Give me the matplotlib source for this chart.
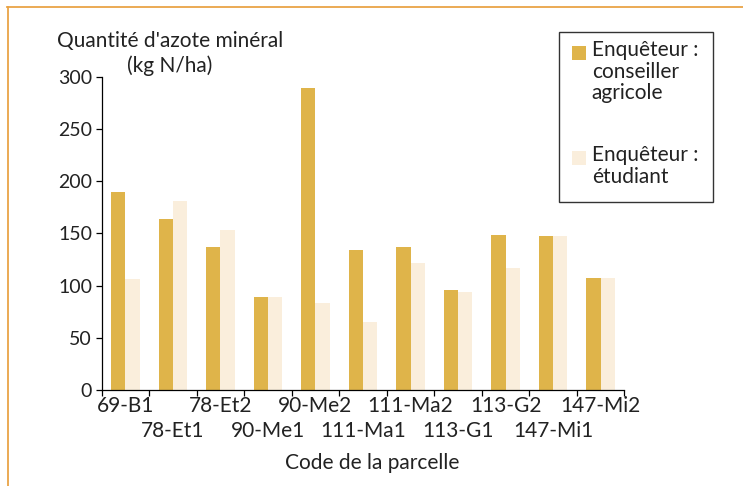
import matplotlib.pyplot as plt
import numpy as np
from matplotlib.patches import Rectangle
from matplotlib.lines import Line2D

plt.rcParams['font.family'] = ['Lato', 'DejaVu Sans']

parcelles = ['69-B1', '78-Et1', '78-Et2', '90-Me1', '90-Me2', '111-Ma1',
             '111-Ma2', '113-G1', '113-G2', '147-Mi1', '147-Mi2']
conseiller = [190, 164, 137, 89, 289, 134, 137, 96, 148, 147, 107]
etudiant = [106, 181, 153, 89, 83, 65, 122, 94, 117, 147, 107]
serie_noms = ['Enquêteur :\nconseiller\nagricole', 'Enquêteur :\nétudiant']
couleurs = ['#DFB44A', '#FAEEDC']

W, H = 743, 486
txt = '#222222'
fig = plt.figure(figsize=(W/100, H/100), dpi=100)
ax = fig.add_axes([101.7/W, 1 - 390/H, (624.3 - 101.7)/W, (390 - 76.7)/H])

x = np.arange(len(parcelles))
bw = 0.3
ax.bar(x - bw/2, conseiller, bw, color=couleurs[0])
ax.bar(x + bw/2, etudiant, bw, color=couleurs[1])

ax.set_xlim(-0.5, len(parcelles) - 0.5)
ax.set_ylim(0, 300)
ax.set_yticks(np.arange(0, 301, 50))
ax.set_xticks(np.arange(len(parcelles) + 1) - 0.5)
ax.set_xticklabels([])
ax.set_xticks(x, minor=True)
ax.set_xticklabels(parcelles, minor=True, fontsize=15, color=txt)
ax.tick_params(axis='x', which='minor', length=0, pad=4)
ax.tick_params(axis='both', which='major', length=4, width=0.9, direction='out',
               labelsize=14, labelcolor=txt, pad=3)
# every second label goes on a lower row
for t in ax.xaxis.get_minor_ticks()[1::2]:
    t.set_pad(22)
for s in ['top', 'right']:
    ax.spines[s].set_visible(False)
for s in ['left', 'bottom']:
    ax.spines[s].set_linewidth(0.9)

# y-axis title above the axis
fig.text(170/W, 1 - 41/H, "Quantité d'azote minéral", ha='center', va='center',
         fontsize=15, color=txt)
fig.text(170/W, 1 - 66/H, "(kg N/ha)", ha='center', va='center',
         fontsize=15, color=txt)
fig.text(372/W, 1 - 463/H, "Code de la parcelle", ha='center', va='center',
         fontsize=15, color=txt)

# legend box drawn by hand
fig.add_artist(Rectangle((559.3/W, 1 - 201.7/H), 154/W, 170/H, transform=fig.transFigure,
                         facecolor='white', edgecolor='#333333', linewidth=1))
for nom, c, ytop in zip(serie_noms, couleurs, [46, 151]):
    fig.add_artist(Rectangle((572/W, 1 - (ytop + 14)/H), 14/W, 14/H,
                             transform=fig.transFigure, facecolor=c, edgecolor='none'))
    fig.text(591.7/W, 1 - (ytop - 6)/H, nom, ha='left', va='top', fontsize=15,
             color=txt, linespacing=1.1)

# orange frame
fig.add_artist(Line2D([7/W, 1], [1 - 7/H, 1 - 7/H], transform=fig.transFigure,
                      color='#E9A447', linewidth=1.3))
fig.add_artist(Line2D([8/W, 8/W], [0, 1 - 7/H], transform=fig.transFigure,
                      color='#E9A447', linewidth=1.3))

fig.savefig('out.png', dpi=100)
